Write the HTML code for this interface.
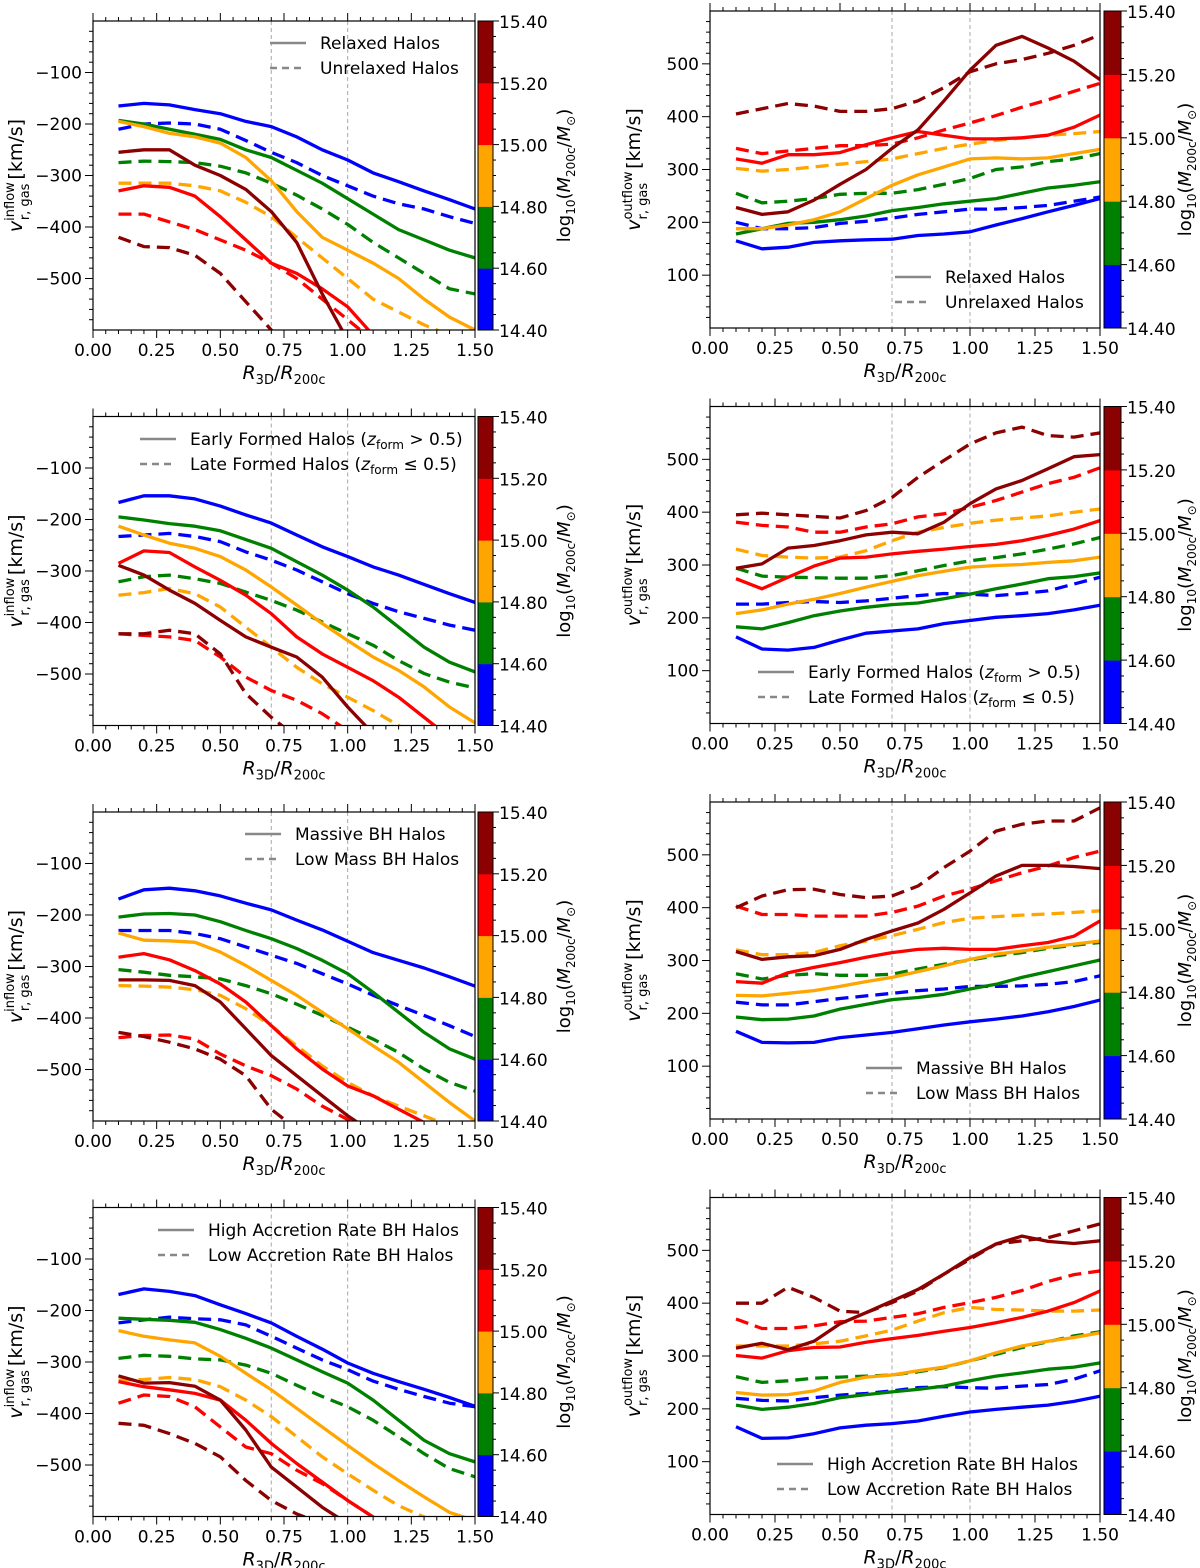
<!DOCTYPE html>
<html><head><meta charset="utf-8"><title>Gas radial velocity profiles</title>
<style>
html,body{margin:0;padding:0;background:#fff;}
svg{display:block;font-family:"DejaVu Sans","Liberation Sans",sans-serif;}
</style></head>
<body>
<svg id="fig" width="1200" height="1568" viewBox="0 0 1200 1568" xmlns="http://www.w3.org/2000/svg"></svg>
<script>
// ---------- shared data ----------
const radiusBins = [0.1,0.2,0.3,0.4,0.5,0.6,0.7,0.8,0.9,1.0,1.1,1.2,1.3,1.4,1.5];
const massBinColors = ["#0000ff","#008000","#ffa500","#ff0000","#8b0000"];
const massBinNames = ["blue","green","orange","red","darkred"];
const colorbarTicks = ["14.40","14.60","14.80","15.00","15.20","15.40"];
const inflowTicks = [-500,-400,-300,-200,-100];
const outflowTicks = [100,200,300,400,500];
const xTickLabels = ["0.00","0.25","0.50","0.75","1.00","1.25","1.50"];

// Panel 1: relaxed vs unrelaxed, inflow
const p1Solid_blue = [-165,-160,-163,-172,-180,-195,-205,-225,-250,-270,-295,-312,-330,-347,-365];
const p1Dash_blue = [-210,-200,-198,-200,-210,-232,-255,-275,-300,-320,-340,-355,-365,-380,-393];
const p1Solid_green = [-193,-200,-210,-220,-230,-250,-265,-290,-315,-345,-375,-405,-425,-445,-460];
const p1Dash_green = [-275,-272,-273,-275,-282,-295,-315,-338,-365,-395,-430,-460,-490,-520,-530];
const p1Solid_orange = [-195,-205,-218,-225,-237,-265,-310,-370,-420,-445,-470,-500,-540,-575,-600];
const p1Dash_orange = [-315,-315,-315,-320,-330,-352,-380,-420,-460,-500,-540,-565,-590,-610,-630];
const p1Solid_red = [-330,-320,-323,-340,-380,-425,-470,-490,-520,-555,-610,-650];
const p1Dash_red = [-375,-375,-390,-405,-425,-445,-470,-500,-540,-580,-620];
const p1Solid_darkred = [-255,-250,-250,-280,-300,-327,-370,-430,-530,-620,-700];
const p1Dash_darkred = [-420,-438,-440,-455,-490,-545,-600,-650];
// Panel 2: relaxed vs unrelaxed, outflow
const p2Solid_blue = [165,150,153,162,165,167,168,175,178,182,195,207,220,232,245];
const p2Dash_blue = [200,188,188,190,198,202,208,215,220,225,225,228,232,240,248];
const p2Solid_green = [178,188,198,200,205,212,222,228,235,240,245,255,265,270,277];
const p2Dash_green = [255,237,240,245,253,255,255,262,272,283,300,305,315,320,330];
const p2Solid_orange = [188,188,195,205,220,245,270,290,305,320,322,320,322,330,338];
const p2Dash_orange = [302,297,300,305,310,315,320,330,340,348,355,360,365,368,372];
const p2Solid_red = [320,312,328,328,332,347,360,372,365,358,358,360,365,380,403];
const p2Dash_red = [340,330,335,340,345,345,348,360,375,388,402,418,432,448,463];
const p2Solid_darkred = [228,215,220,242,272,300,340,375,430,488,535,552,530,505,470];
const p2Dash_darkred = [405,415,425,420,410,410,415,430,455,485,500,508,520,535,555];
// Panel 3: early vs late formed, inflow
const p3Solid_blue = [-167,-154,-154,-160,-174,-191,-207,-230,-253,-272,-292,-308,-326,-344,-361];
const p3Dash_blue = [-233,-230,-227,-233,-243,-263,-279,-298,-321,-344,-363,-379,-392,-405,-415];
const p3Solid_green = [-195,-201,-208,-213,-222,-239,-256,-282,-308,-337,-370,-409,-448,-477,-496];
const p3Dash_green = [-321,-311,-308,-315,-324,-341,-357,-376,-399,-422,-444,-474,-499,-516,-527];
const p3Solid_orange = [-213,-230,-246,-256,-272,-298,-331,-366,-402,-435,-467,-493,-525,-564,-595];
const p3Dash_orange = [-347,-342,-334,-344,-370,-409,-448,-487,-519,-545,-571,-600,-630];
const p3Solid_red = [-285,-261,-264,-292,-318,-347,-383,-428,-461,-487,-513,-545,-584,-623];
const p3Dash_red = [-422,-425,-428,-435,-467,-506,-532,-551,-577,-610];
const p3Solid_darkred = [-289,-308,-337,-363,-396,-428,-448,-467,-506,-564,-616];
const p3Dash_darkred = [-422,-422,-415,-422,-461,-538,-584,-623];
// Panel 4: early vs late formed, outflow
const p4Solid_blue = [164,141,139,144,158,171,175,179,189,195,201,204,208,215,224];
const p4Dash_blue = [226,226,229,231,229,232,237,242,246,245,242,246,251,264,277];
const p4Solid_green = [183,179,191,204,213,220,225,228,236,245,255,264,274,278,285];
const p4Dash_green = [294,279,277,276,275,275,280,289,299,308,314,321,330,340,352];
const p4Solid_orange = [208,215,226,235,246,258,269,280,288,296,299,301,305,308,315];
const p4Dash_orange = [330,318,315,313,315,327,346,362,371,379,385,389,393,400,406];
const p4Solid_red = [274,255,277,298,313,315,321,326,330,335,339,346,356,368,384];
const p4Dash_red = [381,375,372,362,362,372,378,391,397,409,422,438,454,466,484];
const p4Solid_darkred = [294,302,332,337,346,357,362,359,381,416,444,460,482,505,509];
const p4Dash_darkred = [395,398,395,392,389,403,428,466,498,529,550,561,545,542,550];
// Panel 5: massive vs low-mass BH, inflow
const p5Solid_blue = [-169,-151,-148,-153,-163,-177,-190,-210,-229,-251,-273,-288,-303,-320,-338];
const p5Dash_blue = [-230,-230,-230,-236,-246,-262,-278,-294,-314,-334,-356,-376,-395,-415,-436];
const p5Solid_green = [-204,-198,-197,-200,-213,-230,-246,-265,-288,-314,-350,-389,-428,-460,-480];
const p5Dash_green = [-306,-311,-317,-320,-324,-337,-353,-373,-395,-418,-441,-467,-499,-525,-542];
const p5Solid_orange = [-235,-249,-250,-253,-272,-298,-327,-356,-389,-421,-454,-486,-525,-564,-600];
const p5Dash_orange = [-337,-338,-340,-345,-356,-382,-415,-454,-493,-525,-551,-571,-590,-610];
const p5Solid_red = [-282,-275,-287,-308,-334,-369,-415,-460,-499,-532,-551,-577,-603];
const p5Dash_red = [-438,-434,-433,-441,-470,-493,-512,-538,-571,-597,-616];
const p5Solid_darkred = [-326,-326,-327,-337,-369,-421,-473,-512,-551,-590,-623];
const p5Dash_darkred = [-428,-436,-447,-460,-480,-512,-577,-616];
// Panel 6: massive vs low-mass BH, outflow
const p6Solid_blue = [166,145,144,145,154,159,164,171,178,184,189,195,203,213,225];
const p6Dash_blue = [221,216,216,222,228,233,238,243,246,251,251,252,255,260,271];
const p6Solid_green = [193,188,189,195,208,217,226,230,236,246,255,268,279,290,301];
const p6Dash_green = [275,265,272,275,272,272,274,284,293,301,309,315,323,329,334];
const p6Solid_orange = [234,233,238,243,251,260,268,279,290,302,312,318,325,331,337];
const p6Dash_orange = [320,311,311,315,328,337,347,359,372,380,383,386,388,391,394];
const p6Solid_red = [260,257,277,287,296,306,315,321,323,321,321,328,334,346,375];
const p6Dash_red = [403,387,387,384,384,384,391,403,422,435,451,466,479,495,507];
const p6Solid_darkred = [317,302,307,309,321,340,356,371,397,428,460,480,480,478,474];
const p6Dash_darkred = [400,422,434,435,425,419,422,441,476,507,545,558,564,564,589];
// Panel 7: high vs low accretion rate BH, inflow
const p7Solid_blue = [-169,-158,-163,-171,-189,-206,-224,-250,-275,-302,-322,-338,-353,-369,-386];
const p7Dash_blue = [-224,-218,-213,-216,-218,-228,-250,-273,-296,-315,-337,-353,-367,-380,-387];
const p7Solid_green = [-215,-217,-219,-223,-237,-254,-273,-296,-319,-341,-374,-413,-452,-478,-494];
const p7Dash_green = [-293,-287,-289,-294,-296,-306,-322,-345,-367,-387,-413,-445,-478,-507,-523];
const p7Solid_orange = [-239,-250,-257,-263,-289,-322,-354,-390,-426,-462,-497,-530,-562,-592,-608];
const p7Dash_orange = [-335,-334,-330,-334,-348,-374,-406,-445,-484,-517,-549,-579,-601,-625];
const p7Solid_red = [-338,-348,-354,-361,-374,-413,-458,-497,-533,-569,-601,-630];
const p7Dash_red = [-380,-364,-367,-387,-426,-465,-478,-510,-536,-569,-601,-630];
const p7Solid_darkred = [-327,-341,-340,-347,-374,-432,-504,-543,-582,-614];
const p7Dash_darkred = [-419,-423,-439,-458,-484,-530,-569,-595,-614];
// Panel 8: high vs low accretion rate BH, outflow
const p8Solid_blue = [166,144,145,153,164,169,172,177,186,194,199,203,207,214,224];
const p8Dash_blue = [220,216,215,221,226,229,234,240,242,240,239,243,246,256,272];
const p8Solid_green = [207,199,203,210,221,227,232,237,243,253,262,268,275,279,287];
const p8Dash_green = [261,250,253,258,260,262,264,270,278,291,303,316,327,338,346];
const p8Solid_orange = [231,226,227,234,250,260,264,272,279,291,306,319,328,335,344];
const p8Dash_orange = [319,319,319,323,328,338,349,366,382,392,388,387,385,385,387];
const p8Solid_red = [301,296,310,316,317,326,333,339,347,354,363,373,385,401,423];
const p8Dash_red = [370,352,352,357,365,366,373,380,392,401,411,424,441,454,461];
const p8Solid_darkred = [315,324,312,328,361,382,404,426,455,486,512,527,517,513,518];
const p8Dash_darkred = [400,400,430,411,385,382,401,423,455,483,512,518,524,537,550];

const legendSolid = ["Relaxed Halos","Early Formed Halos","Massive BH Halos","High Accretion Rate BH Halos"];
const legendDash = ["Unrelaxed Halos","Late Formed Halos","Low Mass BH Halos","Low Accretion Rate BH Halos"];

const panelSeries = [
 [[p1Solid_blue,p1Solid_green,p1Solid_orange,p1Solid_red,p1Solid_darkred],[p1Dash_blue,p1Dash_green,p1Dash_orange,p1Dash_red,p1Dash_darkred]],
 [[p2Solid_blue,p2Solid_green,p2Solid_orange,p2Solid_red,p2Solid_darkred],[p2Dash_blue,p2Dash_green,p2Dash_orange,p2Dash_red,p2Dash_darkred]],
 [[p3Solid_blue,p3Solid_green,p3Solid_orange,p3Solid_red,p3Solid_darkred],[p3Dash_blue,p3Dash_green,p3Dash_orange,p3Dash_red,p3Dash_darkred]],
 [[p4Solid_blue,p4Solid_green,p4Solid_orange,p4Solid_red,p4Solid_darkred],[p4Dash_blue,p4Dash_green,p4Dash_orange,p4Dash_red,p4Dash_darkred]],
 [[p5Solid_blue,p5Solid_green,p5Solid_orange,p5Solid_red,p5Solid_darkred],[p5Dash_blue,p5Dash_green,p5Dash_orange,p5Dash_red,p5Dash_darkred]],
 [[p6Solid_blue,p6Solid_green,p6Solid_orange,p6Solid_red,p6Solid_darkred],[p6Dash_blue,p6Dash_green,p6Dash_orange,p6Dash_red,p6Dash_darkred]],
 [[p7Solid_blue,p7Solid_green,p7Solid_orange,p7Solid_red,p7Solid_darkred],[p7Dash_blue,p7Dash_green,p7Dash_orange,p7Dash_red,p7Dash_darkred]],
 [[p8Solid_blue,p8Solid_green,p8Solid_orange,p8Solid_red,p8Solid_darkred],[p8Dash_blue,p8Dash_green,p8Dash_orange,p8Dash_red,p8Dash_darkred]]
];

// ---------- drawing ----------
const NS = "http://www.w3.org/2000/svg";
const svg = document.getElementById("fig");
function mk(tag, attrs, parent){
  const e = document.createElementNS(NS, tag);
  for (const k in attrs) e.setAttribute(k, attrs[k]);
  (parent||svg).appendChild(e);
  return e;
}
const defs = mk("defs", {});

const ROW = 395.5;
const FS = 17;

function drawPanel(idx){
  const row = Math.floor(idx/2), right = idx%2===1;
  const x0 = right?710:93, x1 = right?1100:475;
  const top = (right?11:21) + ROW*row, bot = (right?328:330) + ROW*row;
  const ymin = right?0:-600, ymax = right?600:0;
  const cbx0 = right?1104:478, cbx1 = right?1121:493;
  const X = v => x0 + v/1.5*(x1-x0);
  const Y = v => bot - (v-ymin)/(ymax-ymin)*(bot-top);

  const g = mk("g", {});
  
  

  const cp = mk("clipPath", {id:"clip"+idx}, defs);
  mk("rect", {x:x0, y:top, width:x1-x0, height:bot-top}, cp);

  [0.7,1.0].forEach(v=>{
    const l = mk("line", {x1:X(v), x2:X(v), y1:top, y2:bot, stroke:"#a8a8a8", "stroke-width":1, "stroke-dasharray":"4,3"}, g);
    
    
  });

  const plot = mk("g", {"clip-path":"url(#clip"+idx+")"}, g);
  [1,0].forEach(style=>{
    for (let c=0;c<5;c++){
      const data = panelSeries[idx][style][c];
      const pts = data.map((v,i)=>X(radiusBins[i]).toFixed(1)+","+Y(v).toFixed(1)).join(" ");
      const attrs = {points:pts, fill:"none", stroke:massBinColors[c], "stroke-width":3.3, "stroke-linejoin":"round"};
      if (style===1) attrs["stroke-dasharray"] = "13,7";
      const pl = mk("polyline", attrs, plot);
      
      
    }
  });

  const fr = mk("rect", {x:x0, y:top, width:x1-x0, height:bot-top, fill:"none", stroke:"#000", "stroke-width":1.2}, g);
  
  

  for (let k=0;k<=30;k++){
    const v = k*0.05, x = X(v), major = k%5===0;
    const len = major?8:4;
    mk("line", {x1:x, x2:x, y1:bot, y2:bot+len, stroke:"#000", "stroke-width":1}, g);
    mk("line", {x1:x, x2:x, y1:top, y2:top-len, stroke:"#000", "stroke-width":1}, g);
  }
  xTickLabels.forEach((t,i)=>{
    const tx = mk("text", {x:X(i*0.25), y:bot+26, "font-size":FS, "text-anchor":"middle"}, g);
    tx.textContent = t;
    
    
  });
  for (let v=ymin+20; v<ymax; v+=20){
    const y = Y(v), major = v%100===0;
    mk("line", {x1:x0, x2:x0-(major?8:4), y1:y, y2:y, stroke:"#000", "stroke-width":1}, g);
  }
  (right?outflowTicks:inflowTicks).forEach(v=>{
    const tx = mk("text", {x:x0-11, y:Y(v)+6, "font-size":FS, "text-anchor":"end"}, g);
    tx.textContent = v<0 ? "\u2212"+Math.abs(v) : String(v);
    
    
  });

  const xt = mk("text", {x:(x0+x1)/2, y:bot+49, "font-size":19, "text-anchor":"middle"}, g);
  
  
  xt.innerHTML = '<tspan font-style="italic">R</tspan><tspan font-size="13" dy="5">3D</tspan><tspan dy="-5">/</tspan><tspan font-style="italic">R</tspan><tspan font-size="13" dy="5">200c</tspan>';

  const yx = right?640:22, yc = (top+bot)/2;
  const yt = mk("text", {transform:"translate("+yx+","+yc+") rotate(-90)", "font-size":19, "text-anchor":"middle"}, g);
  
  
  const sup = right?"outflow":"inflow";
  const supW = right?48:38;
  yt.innerHTML = '<tspan font-style="italic">v</tspan><tspan font-size="13" dy="-8">'+sup+'</tspan><tspan font-size="13" dx="-'+supW+'" dy="15">r, gas</tspan><tspan dx="'+(supW-34)+'" dy="-7">[km/s]</tspan>';

  const cbh = (bot-top)/5;
  for (let c=0;c<5;c++){
    const r = mk("rect", {x:cbx0, y:bot-(c+1)*cbh, width:cbx1-cbx0, height:cbh+0.5, fill:massBinColors[c]}, g);
    
    
  }
  mk("rect", {x:cbx0, y:top, width:cbx1-cbx0, height:bot-top, fill:"none", stroke:"#000", "stroke-width":1}, g);
  for (let k=0;k<=20;k++){
    const y = bot - k*(bot-top)/20, major = k%4===0;
    mk("line", {x1:cbx1, x2:cbx1+(major?6:3), y1:y, y2:y, stroke:"#000", "stroke-width":1}, g);
  }
  colorbarTicks.forEach((t,i)=>{
    const tx = mk("text", {x:cbx1+6, y:bot - i*cbh + 7, "font-size":FS}, g);
    tx.textContent = t;
    
    
  });
  const cl = mk("text", {transform:"translate("+(right?1191:570)+","+((top+bot)/2)+") rotate(-90)", "font-size":18, "text-anchor":"middle"}, g);
  
  
  cl.innerHTML = 'log<tspan font-size="12" dy="5">10</tspan><tspan dy="-5">(</tspan><tspan font-style="italic">M</tspan><tspan font-size="12" dy="5">200c</tspan><tspan dy="-5">/</tspan><tspan font-style="italic">M</tspan><tspan font-size="12" dy="5">\u2299</tspan><tspan dy="-5">)</tspan>';

  return g;
}

const legendPos = [
  [270,43],[895,277],[140,439],[758,672],[245,834],[866,1068],[158,1230],[777,1464]
];
for (let i=0;i<8;i++){
  const g = drawPanel(i);
  const [lx,ly] = legendPos[i];
  const k = Math.floor(i/2);
  const lg = mk("g", {}, g);
  
  
  mk("line", {x1:lx, x2:lx+36, y1:ly, y2:ly, stroke:"#888", "stroke-width":2.5}, lg);
  mk("line", {x1:lx, x2:lx+36, y1:ly+25, y2:ly+25, stroke:"#888", "stroke-width":2.5, "stroke-dasharray":"7,5"}, lg);
  const t1 = mk("text", {x:lx+50, y:ly+6, "font-size":FS}, lg);
  
  
  const t2 = mk("text", {x:lx+50, y:ly+31, "font-size":FS}, lg);
  
  
  if (k===1){
    t1.innerHTML = legendSolid[k]+' (<tspan font-style="italic">z</tspan><tspan font-size="12" dy="4">form</tspan><tspan dy="-4"> &gt; 0.5)</tspan>';
    t2.innerHTML = legendDash[k]+' (<tspan font-style="italic">z</tspan><tspan font-size="12" dy="4">form</tspan><tspan dy="-4"> \u2264 0.5)</tspan>';
  } else {
    t1.textContent = legendSolid[k];
    t2.textContent = legendDash[k];
  }
}
</script>
</body></html>
